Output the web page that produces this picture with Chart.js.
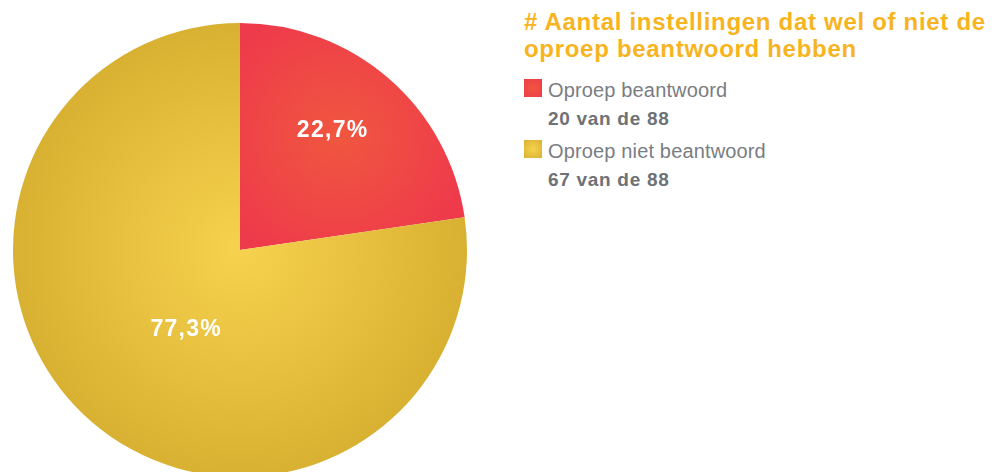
<!DOCTYPE html>
<html>
<head>
<meta charset="utf-8">
<script src="https://cdn.jsdelivr.net/npm/chart.js@4/dist/chart.umd.min.js"></script>
<style>
  html, body { margin: 0; padding: 0; background: #fff; }
  body { width: 999px; height: 472px; overflow: hidden; position: relative; font-family: "Liberation Sans", Arial, sans-serif; }
  #pieBox { position: absolute; left: 0; top: 0; width: 480px; height: 480px; }
  #title { position: absolute; left: 524px; top: 8px; font-size: 24px; line-height: 27px; letter-spacing: 0.7px; font-weight: bold; color: #f7b41f; white-space: nowrap; }
  .lg-row { position: absolute; left: 524px; }
  .lg-box { position: absolute; left: 0; width: 18px; height: 18px; }
  .lg-name { position: absolute; left: 24px; font-size: 20px; line-height: 20px; letter-spacing: 0.15px; color: #7a7d82; white-space: nowrap; }
  .lg-count { position: absolute; left: 24px; font-size: 19px; line-height: 20px; letter-spacing: 0.7px; font-weight: bold; color: #6e7176; white-space: nowrap; }
</style>
</head>
<body>
<div id="pieBox"><canvas id="myChart"></canvas></div>
<div id="title"># Aantal instellingen dat wel of niet de<br>oproep beantwoord hebben</div>
<div id="legend"></div>
<script>
var labels = ['Oproep beantwoord', 'Oproep niet beantwoord']
var percentages = [22.7, 77.3]
var counts = [20, 67]
var total = 88
var innerColors = ['#f0573f', '#f6d24e']
var outerColors = ['#ee3a4b', '#d9b132']

// where the percentage text sits: part of the radius, and a small turn (degrees) off the slice middle
var labelRadius = [0.665, 0.425]
var labelTurn = [-3, -7]

function sliceGradient(context) {
    var chart = context.chart
    var area = chart.chartArea
    var i = context.dataIndex
    if (!area) return outerColors[i]
    var cx = (area.left + area.right) / 2
    var cy = (area.top + area.bottom) / 2
    var r = Math.min(area.right - area.left, area.bottom - area.top) / 2
    var gx = cx, gy = cy, gr = r
    if (i === 0) {
        // the small slice gets its own light spot around its label
        var mid = (percentages[0] / 100) * Math.PI
        gx = cx + Math.sin(mid) * r * labelRadius[0]
        gy = cy - Math.cos(mid) * r * labelRadius[0]
        gr = r * 0.6
    }
    var g = chart.ctx.createRadialGradient(gx, gy, 0, gx, gy, gr)
    g.addColorStop(0, innerColors[i])
    g.addColorStop(1, outerColors[i])
    return g
}

var percentLabels = {
    id: 'percentLabels',
    afterDatasetsDraw: function (chart) {
        var ctx = chart.ctx
        var meta = chart.getDatasetMeta(0)
        ctx.save()
        ctx.fillStyle = '#ffffff'
        ctx.font = 'bold 23px "Liberation Sans", Arial, sans-serif'
        ctx.letterSpacing = '1.3px'
        ctx.textAlign = 'center'
        ctx.textBaseline = 'middle'
        meta.data.forEach(function (arc, i) {
            var mid = (arc.startAngle + arc.endAngle) / 2 + labelTurn[i] * Math.PI / 180
            var d = arc.outerRadius * labelRadius[i]
            var x = arc.x + Math.cos(mid) * d
            var y = arc.y + Math.sin(mid) * d
            ctx.fillText(percentages[i].toFixed(1).replace('.', ',') + '%', x, y)
        })
        ctx.restore()
    }
}

function buildLegend() {
    var html = ''
    labels.forEach(function (name, i) {
        var top = 79 + i * 61
        html += '<div class="lg-row" style="top:' + top + 'px">' +
            '<div class="lg-box" style="background:radial-gradient(circle, ' + innerColors[i] + ', ' + outerColors[i] + ')"></div>' +
            '<div class="lg-name" style="top:1px">' + name + '</div>' +
            '<div class="lg-count" style="top:30px">' + counts[i] + ' van de ' + total + '</div>' +
            '</div>'
    })
    document.getElementById('legend').innerHTML = html
}

var ctx = document.getElementById('myChart').getContext('2d')
var chart = new Chart(ctx, {
    type: 'pie',
    data: {
        labels: labels,
        datasets: [{
            data: percentages,
            backgroundColor: sliceGradient,
            borderWidth: 0
        }]
    },
    options: {
        responsive: true,
        maintainAspectRatio: false,
        animation: false,
        layout: { padding: { top: 23, bottom: 3 } },
        plugins: {
            legend: { display: false },
            tooltip: { enabled: false }
        }
    },
    plugins: [percentLabels]
})
buildLegend()
</script>
</body>
</html>
